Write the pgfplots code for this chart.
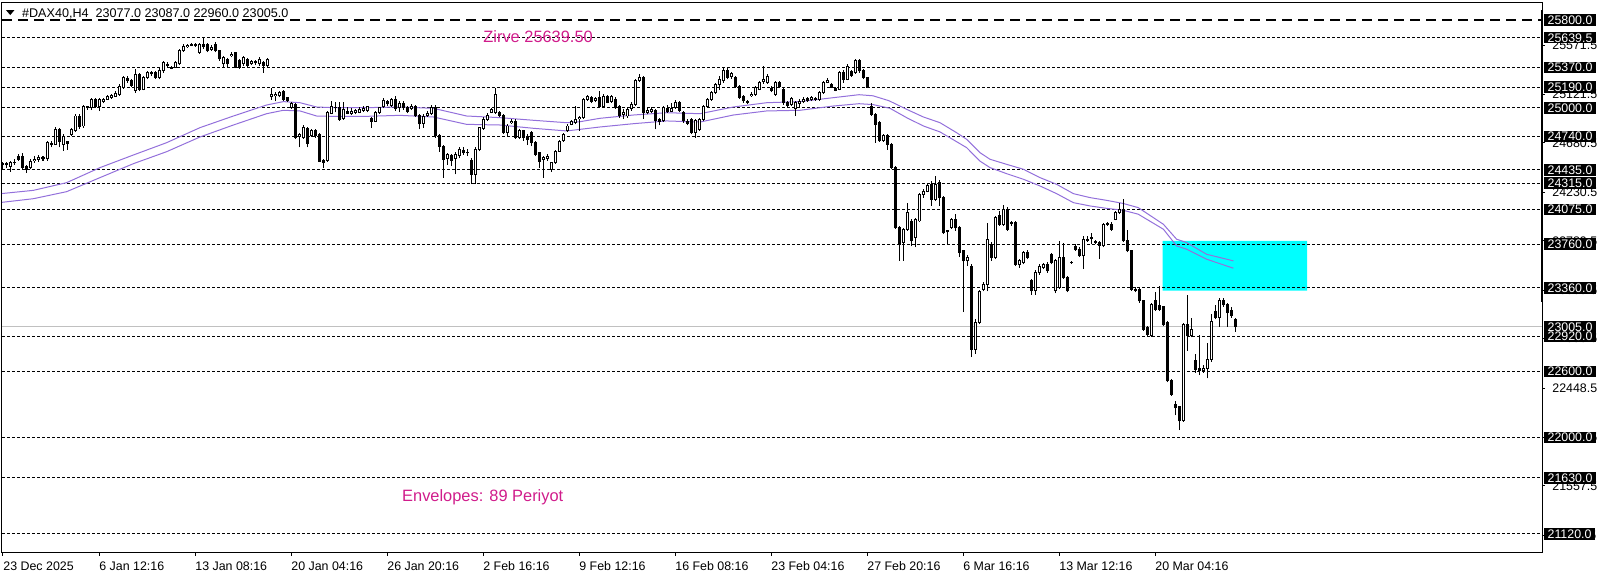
\documentclass[border=0pt]{standalone}
\usepackage{pgfplots}
\pgfplotsset{compat=1.18}
\usepackage{pgfplotstable}
\usepackage{fontspec}
\setmainfont{Liberation Sans}
\definecolor{envc}{RGB}{147,112,219}
\definecolor{mag}{RGB}{208,28,139}
\definecolor{pricegray}{RGB}{192,192,192}
\definecolor{zone}{RGB}{0,255,255}
\pgfplotstableread{
k o h l c
0 24490 24510 24440 24480
1 24480 24505 24450 24490
2 24470 24520 24420 24500
3 24500 24530 24480 24505
4 24560 24580 24520 24530
5 24560 24590 24440 24460
6 24470 24480 24410 24440
7 24455 24530 24440 24510
8 24520 24560 24500 24530
9 24530 24570 24510 24545
10 24545 24560 24520 24540
11 24535 24700 24520 24683
12 24680 24700 24640 24665
13 24670 24830 24660 24805
14 24800 24815 24640 24698
15 24668 24760 24610 24740
16 24690 24700 24620 24680
17 24760 24815 24740 24805
18 24790 24940 24780 24926
19 24926 24940 24810 24830
20 24835 25030 24820 25017
21 25010 25020 24985 25000
22 25000 25090 24980 25078
23 25078 25090 25000 25017
24 25010 25090 24970 25078
25 25060 25090 25040 25075
26 25080 25120 25070 25105
27 25095 25130 25085 25115
28 25108 25150 25100 25135
29 25125 25215 25110 25199
30 25184 25290 25175 25275
31 25270 25290 25230 25250
32 25250 25265 25190 25205
33 25160 25350 25139 25305
34 25300 25320 25150 25169
35 25170 25290 25160 25275
36 25275 25335 25260 25320
37 25320 25335 25290 25310
38 25320 25335 25265 25280
39 25275 25360 25260 25336
40 25336 25430 25320 25410
41 25395 25420 25370 25385
42 25360 25380 25350 25370
43 25370 25430 25360 25412
44 25400 25540 25390 25518
45 25518 25580 25510 25563
46 25555 25585 25545 25570
47 25570 25590 25560 25578
48 25575 25590 25555 25565
49 25505 25595 25495 25580
50 25575 25639.5 25540 25560
51 25575 25595 25505 25520
52 25535 25570 25520 25550
53 25580 25600 25505 25520
54 25520 25530 25430 25445
55 25400 25470 25375 25455
56 25440 25455 25370 25400
57 25475 25505 25460 25490
58 25500 25510 25360 25370
59 25430 25445 25355 25370
60 25400 25470 25385 25455
61 25440 25455 25365 25385
62 25400 25440 25390 25420
63 25420 25440 25390 25410
64 25400 25460 25385 25440
65 25410 25425 25320 25385
66 25385 25455 25375 25440
67 25100 25185 25075 25120
68 25110 25140 25060 25125
69 25110 25150 25095 25140
70 25150 25160 25065 25080
71 25090 25100 25055 25065
72 25002 25050 24990 25040
73 25030 25040 24720 24730
74 24740 24770 24640 24755
75 24730 24840 24720 24820
76 24810 24825 24640 24680
77 24745 24810 24735 24790
78 24790 24810 24730 24745
79 24760 24775 24505 24516
80 24520 24535 24456 24505
81 24520 24970 24510 24956
82 24950 25060 24940 25017
83 25000 25055 24960 25005
84 25005 25050 24885 24896
85 24905 25050 24890 24987
86 24970 25010 24940 24950
87 24945 24995 24935 24970
88 24960 24990 24940 24972
89 24960 25005 24950 24985
90 24980 25015 24965 24995
91 24975 25020 24960 25010
92 24900 24915 24820 24880
93 24880 24970 24870 24956
94 24955 25010 24945 25000
95 25010 25090 24995 25063
96 25055 25075 25020 25040
97 25020 25090 25010 25075
98 25080 25110 24975 24990
99 25000 25060 24960 25040
100 25040 25060 24980 25000
101 25000 25020 24950 24965
102 24990 25035 24980 25017
103 25010 25025 24915 24930
104 24930 24940 24805 24855
105 24860 24940 24820 24925
106 24930 24975 24920 24950
107 24945 25025 24935 25002
108 25000 25030 24730 24745
109 24745 24760 24600 24650
110 24650 24665 24365 24530
111 24540 24590 24480 24575
112 24565 24580 24470 24520
113 24540 24600 24395 24575
114 24565 24640 24540 24620
115 24615 24640 24575 24590
116 24595 24625 24560 24590
117 24520 24540 24305 24395
118 24395 24640 24305 24620
119 24620 24830 24605 24820
120 24815 24920 24800 24896
121 24890 24955 24880 24935
122 24960 25000 24950 24985
123 24956 25184 24945 25123
124 24955 24970 24915 24930
125 24930 24940 24760 24775
126 24775 24850 24735 24835
127 24870 24895 24855 24880
128 24880 24900 24720 24730
129 24730 24805 24715 24790
130 24790 24800 24700 24730
131 24740 24760 24660 24710
132 24775 24790 24650 24683
133 24683 24695 24560 24577
134 24590 24600 24456 24516
135 24530 24560 24365 24545
136 24540 24580 24520 24560
137 24440 24510 24420 24500
138 24500 24620 24490 24607
139 24607 24710 24600 24698
140 24700 24770 24690 24760
141 24790 24850 24780 24835
142 24850 24890 24840 24875
143 24865 25017 24850 24895
144 24900 24930 24790 24910
145 24910 25090 24900 25078
146 25080 25120 25065 25100
147 25090 25110 25040 25060
148 25065 25100 25050 25085
149 25093 25154 25000 25017
150 25017 25125 25000 25108
151 25105 25120 25040 25050
152 25060 25115 25045 25100
153 25078 25095 24990 25002
154 25017 25030 24910 24926
155 24940 24990 24900 24960
156 24926 25000 24910 24987
157 24990 25050 24975 25030
158 25032 25260 25020 25245
159 25250 25305 25235 25275
160 25275 25290 24900 24956
161 24960 24995 24940 24972
162 24965 25010 24950 24985
163 24972 24990 24805 24881
164 24880 24910 24840 24890
165 24881 25020 24870 25002
166 24995 25030 24950 24965
167 24970 25040 24960 24995
168 25002 25075 24990 25047
169 25045 25060 24960 24975
170 24960 24970 24865 24881
171 24880 24895 24840 24860
172 24896 24910 24760 24774
173 24774 24895 24729 24881
174 24805 24910 24790 24896
175 24896 25030 24880 25017
176 25017 25090 25005 25078
177 25078 25150 25065 25139
178 25139 25230 25125 25214
179 25214 25290 25160 25260
180 25245 25360 25230 25336
181 25336 25366 25260 25275
182 25285 25330 25265 25315
183 25275 25290 25185 25199
184 25199 25210 25080 25093
185 25108 25120 25045 25063
186 25060 25075 25035 25050
187 25110 25140 25100 25123
188 25123 25200 25110 25184
189 25169 25245 25160 25230
190 25240 25381 25220 25255
191 25230 25310 25220 25290
192 25180 25195 25140 25155
193 25123 25245 25110 25230
194 25230 25245 25180 25195
195 25169 25190 25030 25047
196 25045 25060 25010 25025
197 25030 25100 25020 25085
198 24990 25060 24926 25047
199 25040 25080 25010 25060
200 25055 25095 25040 25080
201 25085 25100 25055 25070
202 25075 25105 25060 25090
203 25085 25100 25065 25080
204 25078 25155 25065 25139
205 25139 25245 25125 25230
206 25235 25270 25225 25250
207 25215 25230 25180 25190
208 25180 25190 25150 25160
209 25169 25340 25160 25320
210 25320 25345 25230 25262
211 25262 25395 25250 25381
212 25330 25345 25280 25295
213 25321 25445 25310 25427
214 25427 25445 25320 25336
215 25336 25350 25260 25275
216 25275 25285 25180 25190
217 25017 25040 24930 24941
218 24941 24950 24683 24850
219 24865 24880 24690 24699
220 24699 24760 24690 24744
221 24744 24760 24620 24668
222 24668 24680 24440 24456
223 24456 24470 23900 23910
224 23910 23925 23606 23758
225 23773 23910 23606 23893
226 23893 24130 23880 24046
227 23970 23990 23740 23788
228 23818 24000 23730 23985
229 23970 24225 23960 24213
230 24213 24260 24180 24243
231 24243 24320 24230 24289
232 24304 24330 24110 24167
233 24167 24380 24150 24304
234 24319 24340 24110 24183
235 24183 24200 23850 23864
236 23879 23890 23760 23870
237 23910 24000 23900 23985
238 23985 24030 23880 23910
239 23910 23925 23640 23682
240 23697 23710 23140 23606
241 23606 23660 23560 23640
242 23560 23580 22730 22800
243 22800 23080 22760 23050
244 23050 23345 23030 23330
245 23348 23410 23330 23394
246 23394 23956 23330 23803
247 23758 23780 23610 23636
248 23636 24020 23620 24000
249 24016 24060 23925 23940
250 23940 24116 23925 24076
251 24076 24100 23880 23894
252 23955 23970 23925 23945
253 23955 23970 23560 23576
254 23576 23620 23545 23606
255 23591 23700 23575 23682
256 23682 23710 23620 23636
257 23424 23440 23300 23333
258 23333 23520 23300 23500
259 23500 23580 23480 23560
260 23545 23590 23530 23576
261 23576 23595 23500 23515
262 23666 23680 23575 23591
263 23333 23620 23310 23606
264 23363 23790 23350 23636
265 23636 23773 23440 23454
266 23454 23470 23320 23333
267 23595 23610 23580 23590
268 23742 23760 23700 23712
269 23712 23730 23640 23652
270 23652 23830 23531 23804
271 23804 23834 23780 23789
272 23819 23865 23758 23815
273 23780 23795 23760 23775
274 23774 23790 23622 23745
275 23743 23955 23730 23940
276 23940 23965 23925 23946
277 23940 23960 23880 23895
278 23986 24060 23975 24047
279 24047 24138 24035 24077
280 24077 24168 23775 23789
281 23795 23886 23685 23698
282 23698 23710 23335 23349
283 23349 23365 23320 23335
284 23349 23365 23225 23242
285 23242 23255 22970 22984
286 22999 23010 22920 22933
287 22924 23220 22915 23206
288 23242 23327 23150 23167
289 23197 23379 23150 23167
290 23188 23200 23010 23024
291 23045 23060 22500 22514
292 22514 22530 22380 22393
293 22301 22330 22200 22271
294 22277 22290 22065 22150
295 22150 23045 22140 23030
296 23030 23297 22787 22924
297 22924 23091 22910 22985
298 22696 22757 22590 22620
299 22626 22933 22566 22605
300 22605 22660 22590 22629
301 22629 22857 22538 22711
302 22711 23121 22690 23054
303 23142 23206 23075 23091
304 23091 23273 23009 23242
305 23242 23273 23190 23206
306 23206 23220 23009 23136
307 23151 23190 23090 23106
308 23077 23087 22960 23005
}\candles
\begin{document}
\begin{tikzpicture}
\useasboundingbox (-1pt,-12pt) rectangle (802pt,276.5pt);
\begin{axis}[
  at={(0,0)}, anchor=south west,
  scale only axis, width=770pt, height=275pt,
  xmin=-0.25, xmax=384.75, ymin=20947, ymax=25955,
  axis line style={line width=0.5pt, black},
  clip mode=individual,
  tick align=outside, major tick length=1.5pt,
  tick style={black, line width=0.5pt},
  xtick={0,24,48,72,96,120,144,168,192,216,240,264,288},
  xticklabels={23 Dec 2025,6 Jan 12:16,13 Jan 08:16,20 Jan 04:16,26 Jan 20:16,2 Feb 16:16,9 Feb 12:16,16 Feb 08:16,23 Feb 04:16,27 Feb 20:16,6 Mar 16:16,13 Mar 12:16,20 Mar 04:16},
  xtick pos=lower,
  ytick={25571.5,25121.5,24680.5,24230.5,23789.5,23339.5,22898.5,22448.5,21997.5,21557.5,21107.5},
  yticklabels={25571.5,25121.5,24680.5,24230.5,23789.5,23339.5,22898.5,22448.5,21997.5,21557.5,21107.5},
  ytick pos=right, yticklabel pos=right,
  tick label style={font=\fontsize{6.2}{7}\selectfont, inner sep=0pt},
  xticklabel style={anchor=base west, yshift=-7.5pt},
  yticklabel style={anchor=west, xshift=3.5pt},
  /pgf/number format/assume math mode=true,
]
% cyan zone
\addplot[fill=zone, draw=none, forget plot] coordinates {(289.9,23335) (326,23335) (326,23788) (289.9,23788) (289.9,23335)};
% level lines
\addplot[black, line width=0.8pt, dash pattern=on 5pt off 3pt, forget plot] coordinates {(-0.25,25800) (384.75,25800)};
\pgfplotsinvokeforeach{25639.5,25370,25190,25000,24740,24435,24315,24075,23760,23360,22920,22600,22000,21630,21120}{
  \addplot[black, line width=0.5pt, dash pattern=on 1.5pt off 1pt, forget plot] coordinates {(-0.25,#1) (384.75,#1)};
}
% current price line
\addplot[pricegray, line width=0.5pt, forget plot] coordinates {(-0.25,23005) (384.75,23005)};
% envelopes
\addplot[envc, line width=0.5pt, forget plot] coordinates {(-0.25,24220) (7.6,24249) (15.9,24319) (24.25,24456) (32.6,24571) (40.9,24683) (49.25,24820) (57.6,24926) (65.9,25026) (70.1,25057) (74.25,25047) (78.4,25008) (82.6,25002) (90.9,25002) (99.25,25008) (107.6,24996) (115.9,24926) (124.25,24911) (132.6,24887) (140.9,24865) (144.25,24874) (149.25,24905) (157.6,24935) (165.9,24956) (174.25,24947) (182.6,25008) (190.9,25047) (199.25,25057) (207.6,25093) (214,25120) (217.5,25110) (221.5,25065) (225.9,24987) (230.1,24917) (234.25,24865) (238.4,24774) (240.9,24714) (244.25,24592) (246.75,24532) (250.9,24486) (255.1,24441) (259.25,24365) (263.4,24304) (267.6,24219) (271.75,24183) (275.9,24158) (280,24130) (283.8,24092) (290.1,23940) (293.4,23804) (295.9,23774) (300.9,23667) (307.6,23607)};
\addplot[envc, line width=0.5pt, forget plot] coordinates {(-0.25,24140) (7.6,24173) (15.9,24237) (24.25,24365) (32.6,24492) (40.9,24601) (49.25,24735) (57.6,24844) (65.9,24947) (70.1,24978) (74.25,24972) (78.4,24926) (82.6,24923) (90.9,24923) (99.25,24932) (107.6,24917) (115.9,24850) (124.25,24844) (132.6,24814) (140.9,24790) (149.25,24826) (157.6,24856) (165.9,24881) (174.25,24871) (182.6,24935) (190.9,24972) (199.25,24978) (207.6,25017) (214,25038) (217.5,25030) (221.75,24996) (225.9,24911) (230.1,24835) (234.25,24781) (238.4,24692) (240.9,24638) (244.25,24515) (246.75,24456) (250.9,24401) (255.1,24350) (259.25,24289) (263.4,24219) (267.6,24137) (271.75,24107) (275.9,24085) (280,24068) (283.8,24032) (290.1,23895) (293.4,23743) (295.9,23713) (300.9,23622) (307.6,23540)};
% wicks
\addplot[draw=none, mark=none, forget plot,
  error bars/.cd, y dir=plus, y explicit, error mark=none,
  error bar style={line width=0.5pt, draw=black, solid}]
  table[x=k, y=l, y error expr=\thisrow{h}-\thisrow{l}] {\candles};
% bodies
\addplot[draw=none, mark=none, forget plot,
  error bars/.cd, y dir=plus, y explicit, error mark=none,
  error bar style={line width=1.5pt, draw=black, solid}]
  table[x=k, y expr={min(\thisrow{o},\thisrow{c})-4.5}, y error expr={abs(\thisrow{c}-\thisrow{o})+9}] {\candles};
% bullish interiors
\addplot[draw=none, mark=none, forget plot,
  restrict expr to domain={\thisrow{c}-\thisrow{o}}{10:100000},
  error bars/.cd, y dir=plus, y explicit, error mark=none,
  error bar style={line width=0.5pt, draw=white, solid}]
  table[x=k, y expr={\thisrow{o}+4.5}, y error expr={\thisrow{c}-\thisrow{o}-9}] {\candles};
% texts
\fill (axis cs:0.75,25891) -- (axis cs:2.875,25891) -- (axis cs:1.81,25845) -- cycle;
\node[anchor=base west, inner sep=0pt, font=\fontsize{6.3}{7}\selectfont] at (axis cs:4.675,25827) {\#DAX40,H4\ \ 23077.0 23087.0 22960.0 23005.0};
\node[anchor=west, inner sep=0pt, text=mag, font=\fontsize{8.2}{9}\selectfont] at (axis cs:120,25650) {Zirve 25639.50};
\node[anchor=west, inner sep=0pt, text=mag, font=\fontsize{8.2}{9}\selectfont] at (axis cs:99.7,21457) {Envelopes: 89 Periyot};
% label anchors
\coordinate (L1) at (axis cs:384.75,25800);
\coordinate (L2) at (axis cs:384.75,25639.5);
\coordinate (L3) at (axis cs:384.75,25370);
\coordinate (L4) at (axis cs:384.75,25190);
\coordinate (L5) at (axis cs:384.75,25000);
\coordinate (L6) at (axis cs:384.75,24740);
\coordinate (L7) at (axis cs:384.75,24435);
\coordinate (L8) at (axis cs:384.75,24315);
\coordinate (L9) at (axis cs:384.75,24075);
\coordinate (L10) at (axis cs:384.75,23760);
\coordinate (L11) at (axis cs:384.75,23360);
\coordinate (L12) at (axis cs:384.75,23005);
\coordinate (L13) at (axis cs:384.75,22920);
\coordinate (L14) at (axis cs:384.75,22600);
\coordinate (L15) at (axis cs:384.75,22000);
\coordinate (L16) at (axis cs:384.75,21630);
\coordinate (L17) at (axis cs:384.75,21120);
\coordinate (B1) at (axis cs:384.75,25891);
\coordinate (B2) at (axis cs:384.75,23232);
\end{axis}
\draw[line width=1.4pt] (B1) -- (B2);
\foreach \n/\t in {L1/25800.0,L2/25639.5,L3/25370.0,L4/25190.0,L5/25000.0,L6/24740.0,L7/24435.0,L8/24315.0,L9/24075.0,L10/23760.0,L11/23360.0,L12/23005.0,L13/22920.0,L14/22600.0,L15/22000.0,L16/21630.0,L17/21120.0}{
  \node[fill=black, text=white, font=\fontsize{6.2}{7}\selectfont, inner xsep=1.6pt, inner ysep=0.6pt, text height=4.5pt, text depth=0pt, anchor=west, xshift=1pt] at (\n) {\t};
}
\end{tikzpicture}
\end{document}
